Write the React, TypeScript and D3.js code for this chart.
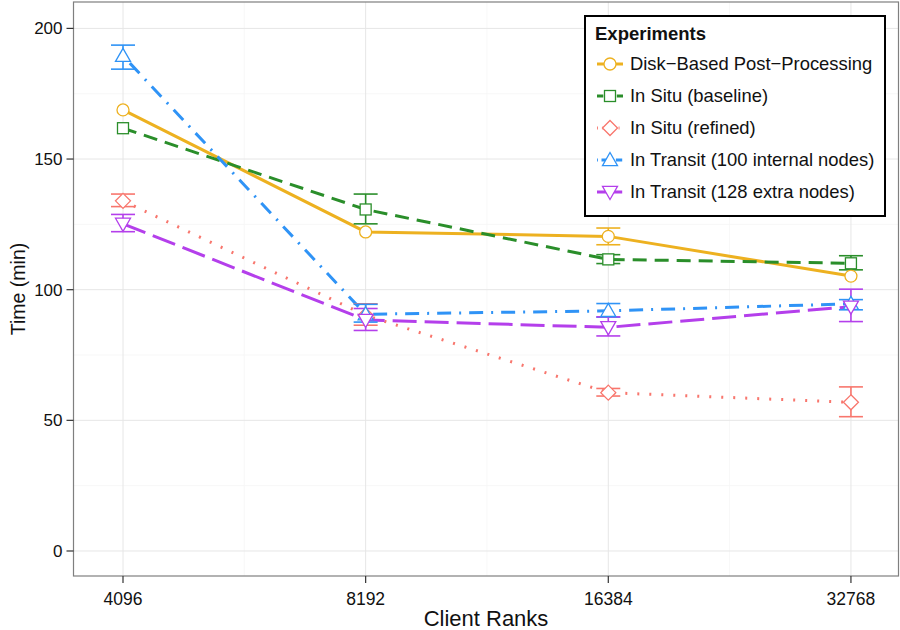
import React from 'react'
import * as d3 from 'd3'

const ranks = [4096, 8192, 16384, 32768]
const seriesNames = [
  'Disk\u2212Based Post\u2212Processing',
  'In Situ (baseline)',
  'In Situ (refined)',
  'In Transit (100 internal nodes)',
  'In Transit (128 extra nodes)',
]
const colors = ['#EDB120', '#2A8E2A', '#F8766D', '#2F93F6', '#B43FEB']
const dashes = ['', '14,8', '2,10', '2,8,14,8', '24,8']
const shapes = ['circle', 'square', 'diamond', 'up', 'down']

// mean times (min) per rank
const diskMean = [168.8, 122.1, 120.4, 105.2]
const baseMean = [161.8, 130.7, 111.6, 110.1]
const refinedMean = [134.0, 90.2, 60.6, 56.9]
const t100Mean = [189.5, 90.6, 91.9, 94.6]
const t128Mean = [125.2, 88.4, 85.6, 93.5]
// error bar lows / highs (null = no bar visible)
const diskLo = [null, null, 117.2, null]
const diskHi = [null, null, 123.6, null]
const baseLo = [null, 125.2, 110.0, 107.6]
const baseHi = [null, 136.6, 113.4, 113.0]
const refinedLo = [131.8, 86.4, 59.3, 51.4]
const refinedHi = [136.6, 94.6, 62.2, 62.8]
const t100Lo = [184.4, 87.6, 89.5, 92.3]
const t100Hi = [193.6, 94.4, 94.7, 96.2]
const t128Lo = [122.2, 84.4, 82.3, 87.8]
const t128Hi = [128.8, 92.8, 89.6, 100.2]

const means = [diskMean, baseMean, refinedMean, t100Mean, t128Mean]
const los = [diskLo, baseLo, refinedLo, t100Lo, t128Lo]
const his = [diskHi, baseHi, refinedHi, t100Hi, t128Hi]

const yTicks = [0, 50, 100, 150, 200]
const yMinor = [25, 75, 125, 175]

const font = '"Liberation Sans", Arial, Helvetica, sans-serif'

function Marker({ shape, x, y, color }: { shape: string; x: number; y: number; color: string }) {
  const common = { fill: 'white', stroke: color, strokeWidth: 1.3 }
  if (shape === 'circle') return <circle cx={x} cy={y} r={6} {...common} />
  if (shape === 'square') return <rect x={x - 5.5} y={y - 5.5} width={11} height={11} {...common} />
  if (shape === 'diamond')
    return <path d={`M${x},${y - 7.5}L${x + 7.5},${y}L${x},${y + 7.5}L${x - 7.5},${y}Z`} {...common} />
  const s = 7.5
  if (shape === 'up')
    return <path d={`M${x},${y - s}L${x + s},${y + s * 0.75}L${x - s},${y + s * 0.75}Z`} {...common} />
  return <path d={`M${x},${y + s}L${x + s},${y - s * 0.75}L${x - s},${y - s * 0.75}Z`} {...common} />
}

export default function App() {
  const left = 73.5, right = 898.5, top = 2, bottom = 576
  const x = d3.scaleLog().base(2).domain([Math.pow(2, 11.796), Math.pow(2, 15.196)]).range([left, right])
  const y = d3.scaleLinear().domain([-9.57, 210.1]).range([bottom, top])
  const xMinor = [Math.pow(2, 12.5), Math.pow(2, 13.5), Math.pow(2, 14.5)]
  const line = d3.line<number>().x((_, i) => x(ranks[i])).y(d => y(d))

  return (
    <svg width={900} height={630} style={{ position: 'absolute', left: 0, top: 0 }} fontFamily={font}>
      <rect width={900} height={630} fill="white" />
      {/* grid */}
      {yMinor.map(v => (
        <line key={'ym' + v} x1={left} x2={right} y1={y(v)} y2={y(v)} stroke="#f5f5f5" strokeWidth={0.8} />
      ))}
      {xMinor.map(v => (
        <line key={'xm' + v} x1={x(v)} x2={x(v)} y1={top} y2={bottom} stroke="#f5f5f5" strokeWidth={0.8} />
      ))}
      {yTicks.map(v => (
        <line key={'yg' + v} x1={left} x2={right} y1={y(v)} y2={y(v)} stroke="#e6e6e6" strokeWidth={1} />
      ))}
      {ranks.map(v => (
        <line key={'xg' + v} x1={x(v)} x2={x(v)} y1={top} y2={bottom} stroke="#e6e6e6" strokeWidth={1} />
      ))}
      {/* lines */}
      {means.map((m, i) => (
        <path key={'l' + i} d={line(m) || ''} fill="none" stroke={colors[i]} strokeWidth={3}
          strokeDasharray={dashes[i] || undefined} />
      ))}
      {/* error bars */}
      {means.map((m, i) =>
        ranks.map((r, j) => {
          const lo = los[i][j], hi = his[i][j]
          if (lo == null || hi == null) return null
          const cx = x(r)
          return (
            <g key={'e' + i + '-' + j} stroke={colors[i]} strokeWidth={1.6}>
              <line x1={cx} x2={cx} y1={y(lo)} y2={y(hi)} />
              <line x1={cx - 12} x2={cx + 12} y1={y(lo)} y2={y(lo)} />
              <line x1={cx - 12} x2={cx + 12} y1={y(hi)} y2={y(hi)} />
            </g>
          )
        })
      )}
      {/* points */}
      {means.map((m, i) =>
        m.map((v, j) => <Marker key={'p' + i + '-' + j} shape={shapes[i]} x={x(ranks[j])} y={y(v)} color={colors[i]} />)
      )}
      {/* panel border */}
      <rect x={left} y={top} width={right - left} height={bottom - top} fill="none" stroke="#7f7f7f" strokeWidth={1.2} />
      {/* y axis */}
      {yTicks.map(v => (
        <g key={'yt' + v}>
          <line x1={left - 7} x2={left} y1={y(v)} y2={y(v)} stroke="#333" strokeWidth={1.2} />
          <text x={left - 11} y={y(v)} dy="0.35em" textAnchor="end" fontSize={17} fill="#111">{v}</text>
        </g>
      ))}
      {ranks.map(v => (
        <g key={'xt' + v}>
          <line x1={x(v)} x2={x(v)} y1={bottom} y2={bottom + 7} stroke="#333" strokeWidth={1.2} />
          <text x={x(v)} y={bottom + 23} dy="0.35em" textAnchor="middle" fontSize={17.5} fill="#111">{v}</text>
        </g>
      ))}
      <text x={(left + right) / 2} y={618} dy="0.35em" textAnchor="middle" fontSize={22} fill="#111">Client Ranks</text>
      <text transform={`translate(18,${(top + bottom) / 2}) rotate(-90)`} dy="0.35em" textAnchor="middle" fontSize={19.5} fill="#111">Time (min)</text>
      {/* legend */}
      <g>
        <rect x={585} y={16} width={300} height={200} fill="white" stroke="black" strokeWidth={2} />
        <text x={595} y={34} dy="0.35em" fontSize={18.5} fontWeight="bold" fill="#111">Experiments</text>
        {seriesNames.map((name, i) => {
          const cy = 64 + i * 32
          return (
            <g key={'lg' + i}>
              <line x1={597} x2={623} y1={cy} y2={cy} stroke={colors[i]} strokeWidth={3}
                strokeDasharray={dashes[i] ? dashes[i].split(',').map(d => +d * 0.45).join(',') : undefined} />
              <Marker shape={shapes[i]} x={610} y={cy} color={colors[i]} />
              <text x={630} y={cy} dy="0.35em" fontSize={18.4} fill="#111">{name}</text>
            </g>
          )
        })}
      </g>
    </svg>
  )
}
